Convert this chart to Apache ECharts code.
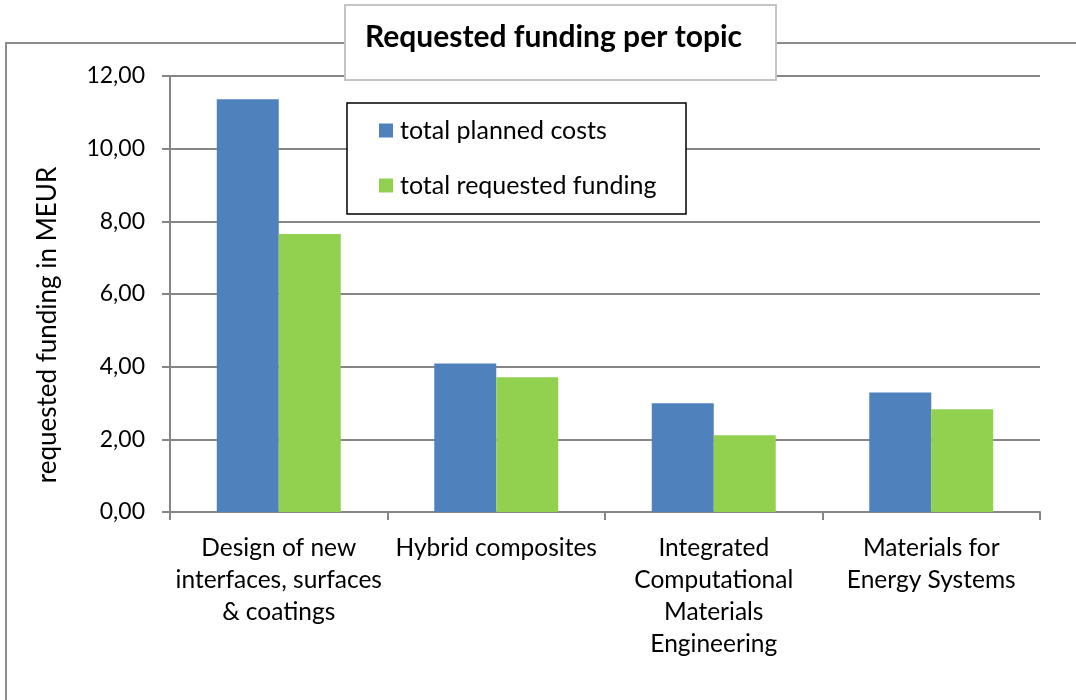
<!DOCTYPE html>
<html>
<head>
<meta charset="utf-8">
<script src="https://cdn.jsdelivr.net/npm/echarts@6/dist/echarts.min.js"></script>
<style>
	html, body { margin: 0; padding: 0; background: #fff; }
	#chart { width: 1076px; height: 700px; }
</style>
</head>
<body>
<div id="chart"></div>
<script>
	var topics = [
		'Design of new\ninterfaces, surfaces\n& coatings',
		'Hybrid composites',
		'Integrated\nComputational\nMaterials\nEngineering',
		'Materials for\nEnergy Systems'
	];
	var plannedCosts = [11.36, 4.09, 2.99, 3.29];
	var requestedFunding = [7.65, 3.71, 2.11, 2.83];
	var yTicks = { min: 0, max: 12, interval: 2 };

	var FONT = 'Lato, "Open Sans", sans-serif';
	var GRID_GRAY = '#868686';

	var chart = echarts.init(document.getElementById('chart'), null, { renderer: 'canvas' });

	var option = {
		animation: false,
		textStyle: { fontFamily: FONT, color: '#000' },
		title: {
			text: 'Requested funding per topic',
			left: 365,
			top: 22,
			padding: 0,
			textStyle: { fontFamily: FONT, fontSize: 30, fontWeight: 'bold', color: '#000' },
			z: 20
		},
		legend: {
			orient: 'vertical',
			left: 379,
			top: 118,
			itemWidth: 14,
			itemHeight: 14,
			itemGap: 30,
			padding: 0,
			icon: 'rect',
			textStyle: { fontFamily: FONT, fontSize: 25, lineHeight: 25, color: '#000', padding: [0, 0, 0, 2] },
			z: 20
		},
		graphic: [
			{
				type: 'rect',
				z: 0,
				shape: { x: 6, y: 43, width: 1200, height: 800 },
				style: { fill: 'none', stroke: '#8c8c8c', lineWidth: 2 }
			},
			{
				type: 'rect',
				z: 10,
				shape: { x: 345, y: 5, width: 431, height: 75 },
				style: { fill: '#fff', stroke: '#c4c4c4', lineWidth: 2 }
			},
			{
				type: 'rect',
				z: 10,
				shape: { x: 347, y: 103, width: 339, height: 111 },
				style: { fill: '#fff', stroke: '#000', lineWidth: 1.5 }
			},
			{
				type: 'text',
				z: 10,
				x: 48,
				y: 325,
				rotation: Math.PI / 2,
				style: {
					text: 'requested funding in MEUR',
					fontFamily: FONT,
					fontSize: 26,
					fill: '#000',
					align: 'center',
					verticalAlign: 'middle'
				}
			}
		],
		grid: { left: 170, right: 36, top: 76, bottom: 188 },
		xAxis: {
			type: 'category',
			data: topics,
			axisLine: { lineStyle: { color: GRID_GRAY, width: 2 } },
			axisTick: { show: true, length: 8, lineStyle: { color: GRID_GRAY, width: 2 } },
			axisLabel: {
				interval: 0,
				margin: 20,
				fontFamily: FONT,
				fontSize: 24.5,
				lineHeight: 32,
				color: '#000'
			}
		},
		yAxis: {
			type: 'value',
			min: yTicks.min,
			max: yTicks.max,
			interval: yTicks.interval,
			axisLine: { show: true, lineStyle: { color: GRID_GRAY, width: 2 } },
			axisTick: { show: true, length: 8, lineStyle: { color: GRID_GRAY, width: 2 } },
			axisLabel: {
				margin: 25,
				fontFamily: FONT,
				fontSize: 23,
				color: '#000',
				formatter: function (v) { return v.toFixed(2).replace('.', ','); }
			},
			splitLine: { lineStyle: { color: GRID_GRAY, width: 2 } }
		},
		series: [
			{
				name: 'total planned costs',
				type: 'bar',
				data: plannedCosts,
				barGap: '0%',
				barCategoryGap: '43%',
				itemStyle: { color: '#4F81BD' }
			},
			{
				name: 'total requested funding',
				type: 'bar',
				data: requestedFunding,
				itemStyle: { color: '#92D050' }
			}
		]
	};

	chart.setOption(option);
</script>
</body>
</html>
